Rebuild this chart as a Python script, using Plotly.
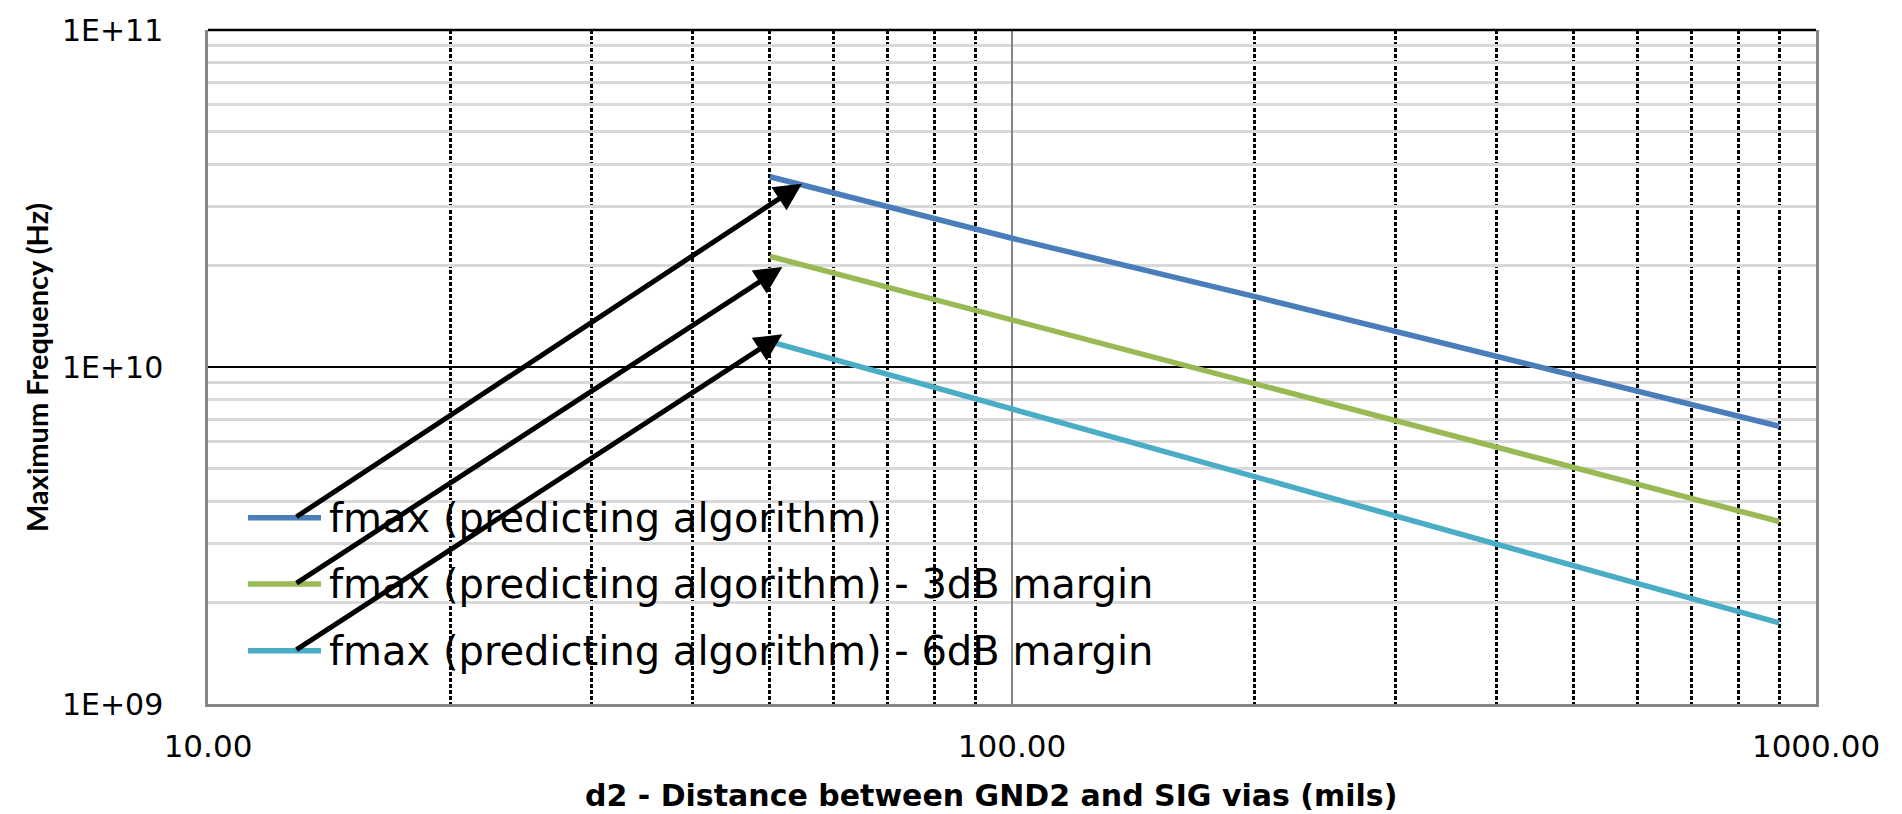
import math
import plotly.graph_objects as go

# ---------------- data ----------------
d2_mils = [50, 100, 200, 500, 900]
fmax_hz = [3.67e10, 2.41e10, 1.62e10, 9.44e9, 6.67e9]
fmax_3db_hz = [2.13e10, 1.38e10, 8.9e9, 5.0e9, 3.48e9]
fmax_6db_hz = [1.19e10, 7.5e9, 4.75e9, 2.58e9, 1.74e9]

series_names = [
    "fmax (predicting algorithm)",
    "fmax (predicting algorithm) - 3dB margin",
    "fmax (predicting algorithm) - 6dB margin",
]
series_colors = ["#4A7EBB", "#98B954", "#4BACC6"]

x_tick_vals = [10, 100, 1000]
x_tick_text = ["10.00", "100.00", "1000.00"]
y_tick_vals = [1e9, 1e10, 1e11]
y_tick_text = ["1E+09", "1E+10", "1E+11"]
x_minor_vals = [20, 30, 40, 50, 60, 70, 80, 90, 200, 300, 400, 500, 600, 700, 800, 900]
y_minor_vals = [2e9, 3e9, 4e9, 5e9, 6e9, 7e9, 8e9, 9e9, 2e10, 3e10, 4e10, 5e10, 6e10, 7e10, 8e10, 9e10]

# arrows: from legend keys to the start of each curve (data units)
arrow_tail_x = [12.83, 12.83, 12.83]
arrow_tail_y = [3.57e9, 2.27e9, 1.44e9]
arrow_head_x = [54.8, 51.8, 51.8]
arrow_head_y = [3.50e10, 1.98e10, 1.25e10]

x_title = "d2 - Distance between GND2 and SIG vias (mils)"
y_title = "Maximum Frequency (Hz)"

# ---------------- figure ----------------
fig = go.Figure()
for name, ys, col in zip(series_names, [fmax_hz, fmax_3db_hz, fmax_6db_hz], series_colors):
    fig.add_trace(go.Scatter(x=d2_mils, y=ys, mode="lines", name=name,
                             line=dict(color=col, width=5.5), showlegend=False))

XLOG = (1, 3)
YLOG = (9, 11)

fig.update_layout(
    width=1902, height=814, autosize=False,
    margin=dict(l=208, r=86, t=24, b=110),
    paper_bgcolor="white", plot_bgcolor="white",
    showlegend=False,
    xaxis=dict(
        type="log", range=list(XLOG),
        tickmode="array", tickvals=x_tick_vals, ticktext=x_tick_text,
        tickfont=dict(family="DejaVu Sans", size=31, color="black"),
        ticks="", ticklabelstandoff=13,
        showgrid=True, gridcolor="#868686", gridwidth=1.5,
        minor=dict(tickmode="array", tickvals=x_minor_vals, showgrid=True,
                   gridcolor="black", griddash="4px,2px", gridwidth=2.5, ticks=""),
        showline=True, linecolor="#868686", linewidth=2.5, mirror=False,
        zeroline=False,
    ),
    yaxis=dict(
        type="log", range=list(YLOG),
        tickmode="array", tickvals=y_tick_vals, ticktext=y_tick_text,
        tickfont=dict(family="DejaVu Sans", size=30, color="black"),
        ticks="", ticklabelstandoff=36,
        showgrid=True, gridcolor="black", gridwidth=1.5,
        minor=dict(tickmode="array", tickvals=y_minor_vals, showgrid=True,
                   gridcolor="#D9D9D9", gridwidth=2.5, ticks=""),
        showline=True, linecolor="#868686", linewidth=2.5, mirror=True,
        zeroline=False,
    ),
)

def ypaper(v):
    return (math.log10(v) - YLOG[0]) / (YLOG[1] - YLOG[0])

shapes = []
# top border (black major line at 1E+11)
shapes.append(dict(type="line", xref="paper", yref="paper", x0=0, x1=1, y0=1, y1=1,
                   line=dict(color="black", width=2.5), layer="above"))
# legend background box
shapes.append(dict(type="rect", xref="paper", yref="paper",
                   x0=0.0031, x1=0.594, y0=0.028, y1=0.331,
                   fillcolor="white", line=dict(width=0), layer="between"))
annotations = []
for i, (name, col) in enumerate(zip(series_names, series_colors)):
    yp = ypaper(arrow_tail_y[i])
    shapes.append(dict(type="line", xref="paper", yref="paper",
                       x0=0.0249, x1=0.0703, y0=yp, y1=yp,
                       line=dict(color=col, width=5.5), layer="between"))
    annotations.append(dict(xref="paper", yref="paper", x=0.074, y=yp,
                            xanchor="left", yanchor="middle", showarrow=False,
                            text=name, font=dict(family="DejaVu Sans", size=40, color="black")))

for i in range(3):
    annotations.append(dict(
        xref="x", yref="y", axref="x", ayref="y",
        x=math.log10(arrow_head_x[i]), y=math.log10(arrow_head_y[i]),
        ax=math.log10(arrow_tail_x[i]), ay=math.log10(arrow_tail_y[i]),
        text="", showarrow=True, arrowhead=2, arrowsize=1.1, arrowwidth=5,
        arrowcolor="black", standoff=0, startstandoff=0))

# axis titles
annotations.append(dict(xref="paper", yref="paper", x=0.487, y=-0.1353,
                        xanchor="center", yanchor="middle", showarrow=False,
                        text="<b>" + x_title + "</b>",
                        font=dict(family="DejaVu Sans", size=30, color="black")))
annotations.append(dict(xref="paper", yref="paper", x=-0.107, y=0.5,
                        xanchor="center", yanchor="middle", showarrow=False, textangle=-90,
                        text="<b>" + y_title + "</b>",
                        font=dict(family="Lato", size=29, color="black")))

fig.update_layout(shapes=shapes, annotations=annotations)
fig.write_html("out.html")
